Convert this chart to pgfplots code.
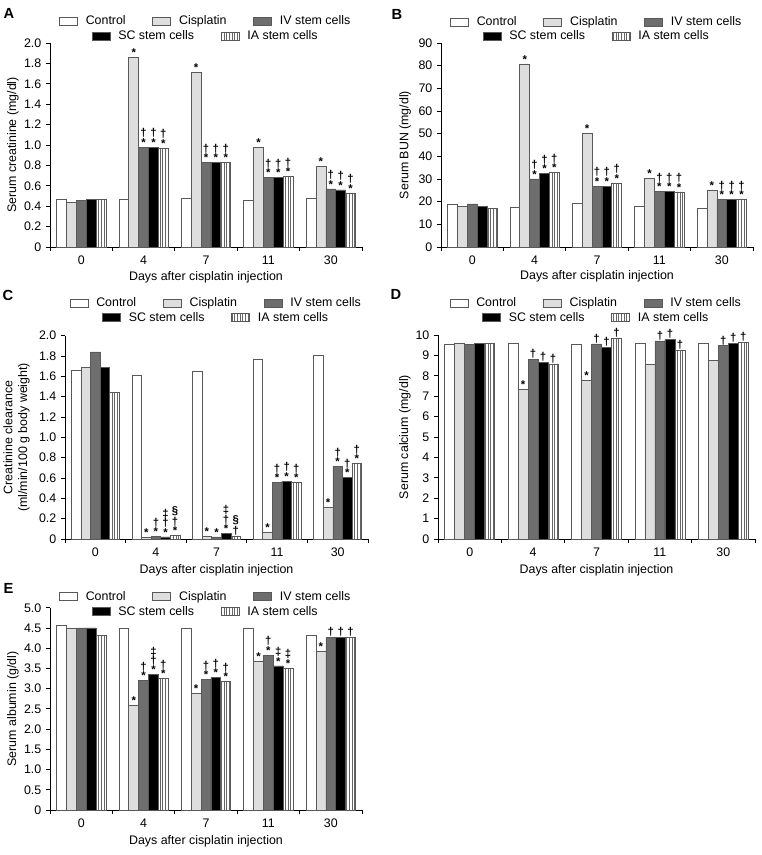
\documentclass[border=0pt]{standalone}
\usepackage{fontspec}
\setmainfont{Liberation Sans}
\usepackage{pgfplots}
\usepackage{pgfplotstable}
\pgfplotsset{compat=1.18}
\usetikzlibrary{patterns.meta}
\definecolor{edge}{gray}{0.35}
\definecolor{cisfill}{gray}{0.87}
\definecolor{ivfill}{gray}{0.43}
\definecolor{stripe}{gray}{0.40}
\newcommand\myfs{\fontsize{9.3}{11}\selectfont}
\newcommand\myfa{\fontsize{8.5}{7}\selectfont\bfseries}
\tikzset{annot/.style={anchor=south, inner sep=0pt, yshift=0.4pt, font=\myfa, align=center}}
\newcommand\an[3]{\node[annot] at (axis cs:#1,#2) {#3};}

\pgfplotsset{
  barbase/.style={ybar, bar width=0.158, draw=edge, line width=0.5pt,
    legend image code/.code={\draw[##1,line width=0.5pt] (0pt,-3pt) rectangle (13.5pt,3pt); \path (17.5pt,0pt);}},
  ctrl/.style={barbase, fill=white, bar shift=-0.316},
  cis/.style={barbase, fill=cisfill, bar shift=-0.158},
  iv/.style={barbase, fill=ivfill, bar shift=0},
  sc/.style={barbase, fill=black, bar shift=0.158},
  ia/.style={barbase, pattern={Lines[angle=90,distance=2pt,line width=0.55pt]}, pattern color=stripe, bar shift=0.316},
  panel/.style={
    scale only axis, anchor=south west,
    axis x line*=bottom, axis y line*=left,
    xmin=0, xmax=5, ymin=0,
    xtick={0,1,2,3,4,5}, xticklabels={0,4,7,11,30}, x tick label as interval,
    tick align=outside, major tick length=3pt,
    axis line style={line width=0.6pt}, tick style={line width=0.6pt, black},
    tick label style={font=\myfs}, label style={font=\myfs},
    /pgf/number format/assume math mode=true,
    xlabel={Days after cisplatin injection},
    clip=false,
    legend columns=3, legend cell align=left,
    legend style={draw=none, fill=none, font=\myfs, inner sep=0pt, anchor=center,
      /tikz/every even column/.append style={column sep=18pt}},
  },
  legaxis/.style={scale only axis, anchor=south west, hide axis, xmin=0,xmax=1,ymin=0,ymax=1,
    legend columns=2, legend cell align=left,
    legend style={draw=none, fill=none, font=\myfs, inner sep=0pt, anchor=center,
      /tikz/every even column/.append style={column sep=18pt}}},
}

\pgfplotstableread{
x ctrl cis iv sc ia
0.5 0.47 0.44 0.46 0.47 0.47
1.5 0.47 1.86 0.98 0.98 0.97
2.5 0.48 1.71 0.83 0.83 0.83
3.5 0.46 0.98 0.68 0.68 0.69
4.5 0.48 0.79 0.57 0.56 0.53
}\dataA
\pgfplotstableread{
x ctrl cis iv sc ia
0.5 18.6 17.8 19.0 18.0 17.2
1.5 17.7 80.8 30.0 32.3 32.9
2.5 19.2 50.1 26.9 26.9 28.2
3.5 18.0 30.2 24.6 24.6 24.3
4.5 17.1 25.2 20.9 20.9 20.9
}\dataB
\pgfplotstableread{
x ctrl cis iv sc ia
0.5 1.66 1.69 1.84 1.69 1.44
1.5 1.61 0.017 0.027 0.02 0.036
2.5 1.65 0.027 0.02 0.056 0.03
3.5 1.77 0.066 0.558 0.57 0.558
4.5 1.81 0.308 0.715 0.607 0.74
}\dataC
\pgfplotstableread{
x ctrl cis iv sc ia
0.5 9.56 9.61 9.53 9.60 9.60
1.5 9.61 7.35 8.81 8.66 8.58
2.5 9.56 7.77 9.56 9.40 9.85
3.5 9.61 8.55 9.71 9.79 9.24
4.5 9.61 8.74 9.48 9.60 9.65
}\dataD
\pgfplotstableread{
x ctrl cis iv sc ia
0.5 4.56 4.50 4.50 4.50 4.31
1.5 4.50 2.59 3.20 3.35 3.25
2.5 4.50 2.89 3.23 3.28 3.18
3.5 4.50 3.68 3.83 3.56 3.51
4.5 4.31 3.92 4.27 4.27 4.27
}\dataE

\begin{document}
\begin{tikzpicture}
% ---------------- A ----------------
\begin{axis}[panel, at={(37.5pt,456pt)}, width=234pt, height=153pt, ymax=2.0,
  ytick={0,0.2,0.4,0.6,0.8,1.0,1.2,1.4,1.6,1.8,2.0},
  yticklabels={0,0.2,0.4,0.6,0.8,1.0,1.2,1.4,1.6,1.8,2.0},
  ylabel={Serum creatinine (mg/dl)},
  ylabel style={at={(axis description cs:-0.1186,0.5)}, anchor=center},
  xlabel style={at={(axis description cs:0.5,-0.147)}, anchor=center},
  legend style={at={(axis description cs:0.5,1.108)}}]
\addplot[ctrl] table[x=x,y=ctrl]{\dataA};
\addplot[cis] table[x=x,y=cis]{\dataA};
\addplot[iv] table[x=x,y=iv]{\dataA};
\addplot[sc] table[x=x,y=sc]{\dataA};
\addplot[ia] table[x=x,y=ia]{\dataA};
\legend{Control,Cisplatin,IV stem cells}
\an{1.342}{1.86}{*}\an{1.5}{0.98}{†\\*}\an{1.658}{0.98}{†\\*}\an{1.816}{0.97}{†\\*}
\an{2.342}{1.71}{*}\an{2.5}{0.83}{†\\*}\an{2.658}{0.83}{†\\*}\an{2.816}{0.83}{†\\*}
\an{3.342}{0.98}{*}\an{3.5}{0.68}{†\\*}\an{3.658}{0.68}{†\\*}\an{3.816}{0.69}{†\\*}
\an{4.342}{0.79}{*}\an{4.5}{0.57}{†\\*}\an{4.658}{0.56}{†\\*}\an{4.816}{0.53}{†\\*}
\end{axis}
\begin{axis}[legaxis, at={(37.5pt,456pt)}, width=234pt, height=153pt,
  legend style={at={(axis description cs:0.5,1.034)}}]
\addlegendimage{sc}\addlegendentry{SC stem cells}
\addlegendimage{ia}\addlegendentry{IA stem cells}
\end{axis}
% ---------------- B ----------------
\begin{axis}[panel, at={(330.75pt,456pt)}, width=234pt, height=153pt, ymax=90,
  ytick={0,10,20,30,40,50,60,70,80,90},
  yticklabels={0,10,20,30,40,50,60,70,80,90},
  ylabel={Serum BUN (mg/dl)},
  ylabel style={at={(axis description cs:-0.115,0.5)}, anchor=center},
  xlabel style={at={(axis description cs:0.5,-0.145)}, anchor=center},
  legend style={at={(axis description cs:0.5,1.103)}}]
\addplot[ctrl] table[x=x,y=ctrl]{\dataB};
\addplot[cis] table[x=x,y=cis]{\dataB};
\addplot[iv] table[x=x,y=iv]{\dataB};
\addplot[sc] table[x=x,y=sc]{\dataB};
\addplot[ia] table[x=x,y=ia]{\dataB};
\legend{Control,Cisplatin,IV stem cells}
\an{1.342}{80.8}{*}\an{1.5}{30.0}{†\\*}\an{1.658}{32.3}{†\\*}\an{1.816}{32.9}{†\\*}
\an{2.342}{50.1}{*}\an{2.5}{26.9}{†\\*}\an{2.658}{26.9}{†\\*}\an{2.816}{28.2}{†\\*}
\an{3.342}{30.2}{*}\an{3.5}{24.6}{†\\*}\an{3.658}{24.6}{†\\*}\an{3.816}{24.3}{†\\*}
\an{4.342}{25.2}{*}\an{4.5}{20.9}{†\\*}\an{4.658}{20.9}{†\\*}\an{4.816}{20.9}{†\\*}
\end{axis}
\begin{axis}[legaxis, at={(330.75pt,456pt)}, width=234pt, height=153pt,
  legend style={at={(axis description cs:0.5,1.034)}}]
\addlegendimage{sc}\addlegendentry{SC stem cells}
\addlegendimage{ia}\addlegendentry{IA stem cells}
\end{axis}
% ---------------- C ----------------
\begin{axis}[panel, at={(48.75pt,237pt)}, width=227.25pt, height=152.5pt, ymax=2.0,
  ytick={0,0.2,0.4,0.6,0.8,1.0,1.2,1.4,1.6,1.8,2.0},
  yticklabels={0,0.2,0.4,0.6,0.8,1.0,1.2,1.4,1.6,1.8,2.0},
  ylabel={Creatinine clearance\\(ml/min/100 g body weight)},
  ylabel style={at={(axis description cs:-0.160,0.5)}, anchor=center, align=center},
  xlabel style={at={(axis description cs:0.5,-0.152)}, anchor=center},
  legend style={at={(axis description cs:0.5,1.159)}}]
\addplot[ctrl] table[x=x,y=ctrl]{\dataC};
\addplot[cis] table[x=x,y=cis]{\dataC};
\addplot[iv] table[x=x,y=iv]{\dataC};
\addplot[sc] table[x=x,y=sc]{\dataC};
\addplot[ia] table[x=x,y=ia]{\dataC};
\legend{Control,Cisplatin,IV stem cells}
\an{1.342}{0.017}{*}\an{1.5}{0.027}{†\\*}\an{1.658}{0.02}{‡\\†\\*}\an{1.816}{0.036}{§\\†\\*}
\an{2.342}{0.027}{*}\an{2.5}{0.02}{*}\an{2.658}{0.056}{‡\\†\\*}\an{2.816}{0.03}{§\\†}
\an{3.342}{0.066}{*}\an{3.5}{0.558}{†\\*}\an{3.658}{0.57}{†\\*}\an{3.816}{0.558}{†\\*}
\an{4.342}{0.308}{*}\an{4.5}{0.715}{†\\*}\an{4.658}{0.607}{†\\*}\an{4.816}{0.74}{†\\*}
\end{axis}
\begin{axis}[legaxis, at={(48.75pt,237pt)}, width=227.25pt, height=152.5pt,
  legend style={at={(axis description cs:0.5,1.0885)}}]
\addlegendimage{sc}\addlegendentry{SC stem cells}
\addlegendimage{ia}\addlegendentry{IA stem cells}
\end{axis}
% ---------------- D ----------------
\begin{axis}[panel, at={(328.5pt,237pt)}, width=237.75pt, height=153pt, ymax=10,
  ytick={0,1,2,3,4,5,6,7,8,9,10},
  yticklabels={0,1,2,3,4,5,6,7,8,9,10},
  ylabel={Serum calcium (mg/dl)},
  ylabel style={at={(axis description cs:-0.104,0.5)}, anchor=center},
  xlabel style={at={(axis description cs:0.5,-0.152)}, anchor=center},
  legend style={at={(axis description cs:0.5,1.155)}}]
\addplot[ctrl] table[x=x,y=ctrl]{\dataD};
\addplot[cis] table[x=x,y=cis]{\dataD};
\addplot[iv] table[x=x,y=iv]{\dataD};
\addplot[sc] table[x=x,y=sc]{\dataD};
\addplot[ia] table[x=x,y=ia]{\dataD};
\legend{Control,Cisplatin,IV stem cells}
\an{1.342}{7.35}{*}\an{1.5}{8.81}{†}\an{1.658}{8.66}{†}\an{1.816}{8.58}{†}
\an{2.342}{7.77}{*}\an{2.5}{9.56}{†}\an{2.658}{9.40}{†}\an{2.816}{9.85}{†}
\an{3.5}{9.71}{†}\an{3.658}{9.79}{†}\an{3.816}{9.24}{†}
\an{4.5}{9.48}{†}\an{4.658}{9.60}{†}\an{4.816}{9.65}{†}
\end{axis}
\begin{axis}[legaxis, at={(328.5pt,237pt)}, width=237.75pt, height=153pt,
  legend style={at={(axis description cs:0.5,1.085)}}]
\addlegendimage{sc}\addlegendentry{SC stem cells}
\addlegendimage{ia}\addlegendentry{IA stem cells}
\end{axis}
% ---------------- E ----------------
\begin{axis}[panel, at={(37.5pt,33.75pt)}, width=234pt, height=151.7pt, ymax=5.0,
  ytick={0,0.5,1.0,1.5,2.0,2.5,3.0,3.5,4.0,4.5,5.0},
  yticklabels={0,0.5,1.0,1.5,2.0,2.5,3.0,3.5,4.0,4.5,5.0},
  ylabel={Serum albumin (g/dl)},
  ylabel style={at={(axis description cs:-0.1186,0.5)}, anchor=center},
  xlabel style={at={(axis description cs:0.5,-0.157)}, anchor=center},
  legend style={at={(axis description cs:0.5,1.054)}}]
\addplot[ctrl] table[x=x,y=ctrl]{\dataE};
\addplot[cis] table[x=x,y=cis]{\dataE};
\addplot[iv] table[x=x,y=iv]{\dataE};
\addplot[sc] table[x=x,y=sc]{\dataE};
\addplot[ia] table[x=x,y=ia]{\dataE};
\legend{Control,Cisplatin,IV stem cells}
\an{1.342}{2.59}{*}\an{1.5}{3.20}{†\\*}\an{1.658}{3.35}{‡\\†\\*}\an{1.816}{3.25}{†\\*}
\an{2.342}{2.89}{*}\an{2.5}{3.23}{†\\*}\an{2.658}{3.28}{†\\*}\an{2.816}{3.18}{†\\*}
\an{3.342}{3.68}{*}\an{3.5}{3.83}{†\\*}\an{3.658}{3.56}{‡\\*}\an{3.816}{3.51}{‡\\*}
\an{4.342}{3.92}{*}\an{4.5}{4.27}{†}\an{4.658}{4.27}{†}\an{4.816}{4.27}{†}
\end{axis}
\begin{axis}[legaxis, at={(37.5pt,33.75pt)}, width=234pt, height=151.7pt,
  legend style={at={(axis description cs:0.5,0.980)}}]
\addlegendimage{sc}\addlegendentry{SC stem cells}
\addlegendimage{ia}\addlegendentry{IA stem cells}
\end{axis}
% panel letters
\node[font=\fontsize{11}{13}\selectfont\bfseries] at (6.75pt,631.5pt) {A};
\node[font=\fontsize{11}{13}\selectfont\bfseries] at (297.75pt,630.75pt) {B};
\node[font=\fontsize{11}{13}\selectfont\bfseries] at (6pt,420pt) {C};
\node[font=\fontsize{11}{13}\selectfont\bfseries] at (297pt,420.4pt) {D};
\node[font=\fontsize{11}{13}\selectfont\bfseries] at (6.4pt,200.25pt) {E};
\pgfresetboundingbox
\useasboundingbox (0,0) rectangle (570.75pt,641.25pt);
\end{tikzpicture}
\end{document}
